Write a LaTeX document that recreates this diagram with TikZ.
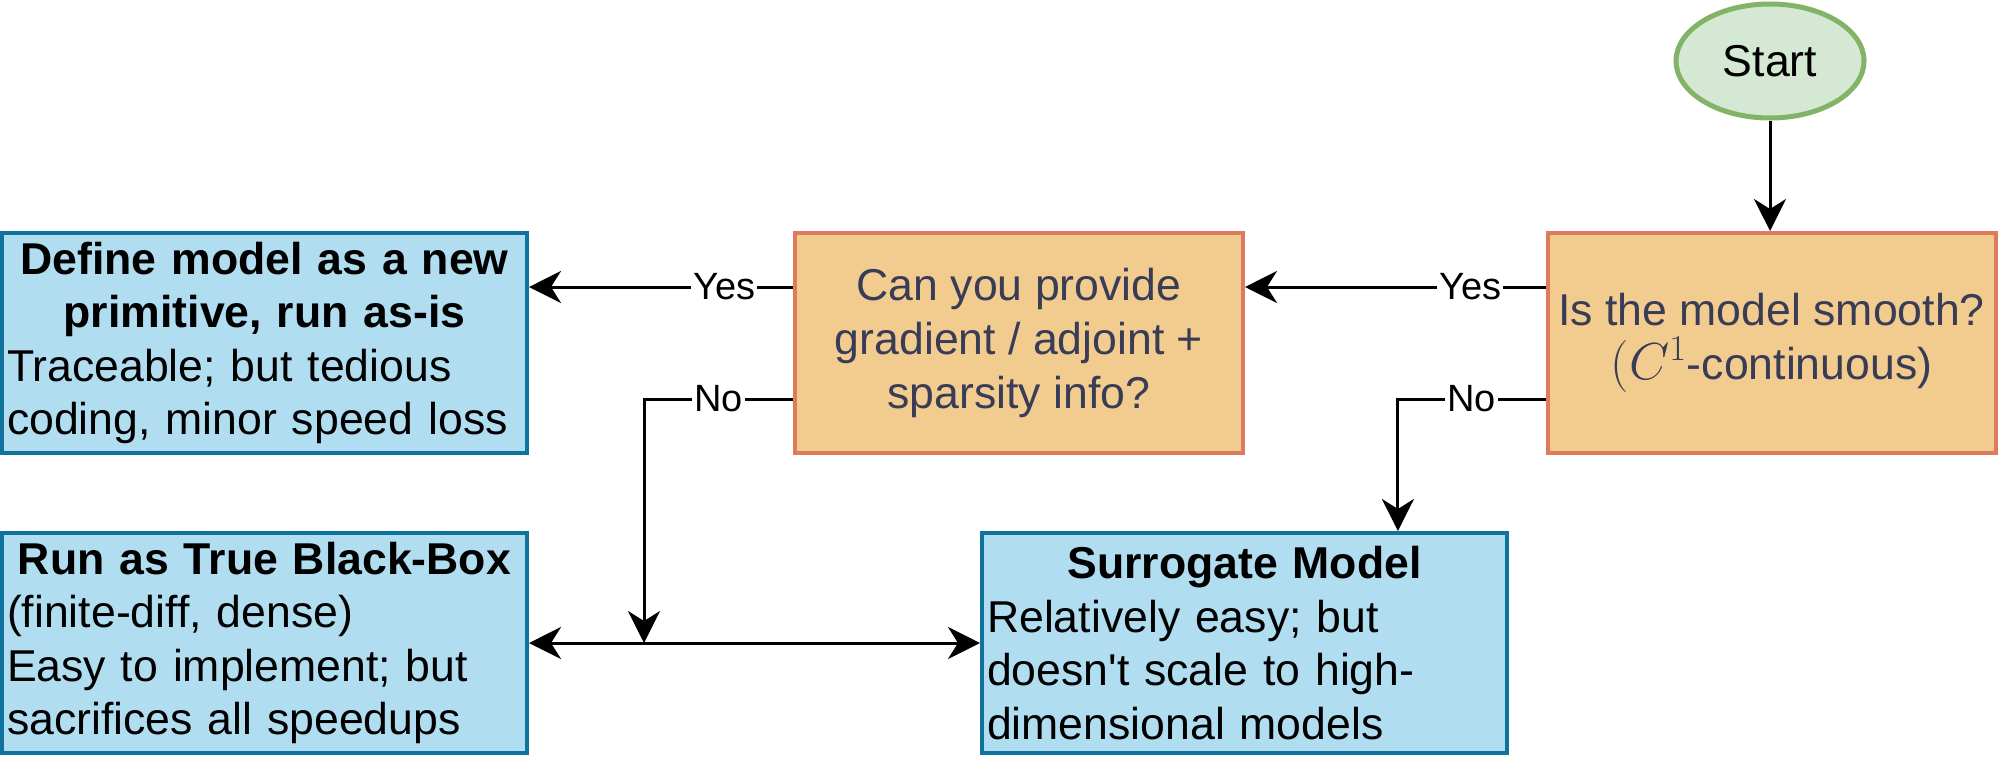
\RequirePackage{fix-cm}
\documentclass[tikz,border=0pt]{standalone}
\usepackage{fontspec}
\setmainfont{Liberation Sans}
\usetikzlibrary{calc,arrows.meta,shapes.geometric}

\definecolor{blueFill}{HTML}{B1DDF0}
\definecolor{blueLine}{HTML}{10739E}
\definecolor{orangeFill}{HTML}{F2CC8F}
\definecolor{orangeLine}{HTML}{E07A5F}
\definecolor{navyText}{HTML}{393C56}
\definecolor{greenFill}{HTML}{D5E8D4}
\definecolor{greenLine}{HTML}{82B366}

\newcommand{\boxfont}{\fontsize{22.3}{26.8}\selectfont}
\newcommand{\answerfont}{\fontsize{19}{22.8}\selectfont}
\newcommand{\mathbig}[1]{{\fontsize{26}{26.8}\selectfont$#1$}}

\begin{document}
\begin{tikzpicture}[x=0.5pt, y=-0.5pt,
    question/.style={rectangle, draw=orangeLine, fill=orangeFill, line width=2pt,
        minimum width=224pt, minimum height=110pt, inner sep=0pt,
        align=center, text=navyText, font=\boxfont},
    outcome/.style={rectangle, draw=blueLine, fill=blueFill, line width=2pt,
        minimum width=262.5pt, minimum height=110pt, inner xsep=2.5pt, inner ysep=0pt,
        text width=257.5pt, align=left, font=\boxfont},
    terminal/.style={ellipse, draw=greenLine, fill=greenFill, line width=2.5pt,
        minimum width=94pt, minimum height=57pt, font=\boxfont},
    flow/.style={-{Stealth[length=16pt, width=16pt, inset=5pt]}, line width=1.5pt},
    flowboth/.style={{Stealth[length=16pt, width=16pt, inset=5pt]}-{Stealth[length=16pt, width=16pt, inset=5pt]}, line width=1.5pt},
    answer/.style={fill=white, inner sep=1pt, font=\answerfont}
]
    \useasboundingbox (0,0) rectangle (2000,761);

    % Start and questions
    \node[terminal] (start) at (1770,61) {Start};
    \node[question] (smooth) at (1771.5,343) {Is the model smooth?\\\mathbig{(C^1}-continuous)};
    \node[question] (grad) at (1019,343) {Can you provide\\gradient / adjoint +\\sparsity info?};

    % Outcomes
    \node[outcome] (define) at (264.5,343) {{\centering\bfseries Define model as a new\\primitive, run as-is\par}Traceable; but tedious\\coding, minor speed loss};
    \node[outcome] (blackbox) at (264.5,643) {{\centering\bfseries Run as True Black-Box\par}(finite-diff, dense)\\Easy to implement; but\\sacrifices all speedups};
    \node[outcome] (surrogate) at (1244.5,643) {{\centering\bfseries Surrogate Model\par}Relatively easy; but\\doesn\textquotesingle t scale to high-\\dimensional models};

    % Start to first question
    \draw[flow] (start.south) -- (start.south |- smooth.north);

    % Yes branches
    \coordinate (smoothYes) at ($(smooth.north west)!0.25!(smooth.south west)$);
    \coordinate (gradYes) at ($(grad.north west)!0.25!(grad.south west)$);
    \draw[flow] (smoothYes) -- node[answer, pos=0.25] {Yes} (smoothYes -| grad.east);
    \draw[flow] (gradYes) -- node[answer, pos=0.26] {Yes} (gradYes -| define.east);

    % No branches
    \coordinate (smoothNo) at ($(smooth.north west)!0.75!(smooth.south west)$);
    \coordinate (gradNo) at ($(grad.north west)!0.75!(grad.south west)$);
    \coordinate (drop) at ($(surrogate.north west)!0.79!(surrogate.north east)$);
    \coordinate (merge) at (644,643);
    \draw[flow] (smoothNo) -| node[answer, pos=0.25] {No} (drop);
    \draw[flow] (gradNo) -| node[answer, pos=0.25] {No} (merge);

    % Black-box and surrogate
    \draw[flowboth] (blackbox) -- (surrogate);
\end{tikzpicture}
\end{document}
